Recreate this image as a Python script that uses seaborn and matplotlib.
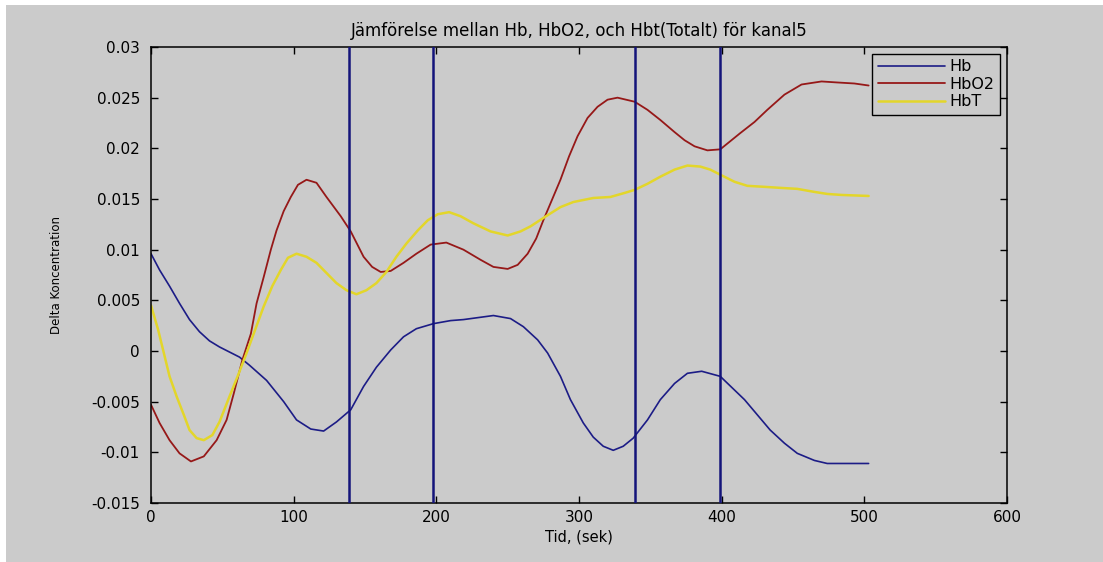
import numpy as np
import pandas as pd
import matplotlib
matplotlib.use("Agg")
import matplotlib.pyplot as plt
from matplotlib.patches import Rectangle
import seaborn as sns

# ---- data ----
hb_t = [0, 6, 13, 20, 27, 34, 41, 48, 55, 62, 69, 81, 93, 102, 112, 121, 130, 140,
        149, 158, 168, 177, 186, 198, 210, 219, 240, 252, 261, 271, 278, 287, 294,
        303, 310, 317, 324, 331, 338, 348, 357, 367, 376, 386, 399, 416, 425, 434,
        444, 453, 465, 474, 503]
hb_v = [0.0096, 0.0080, 0.0064, 0.0047, 0.0031, 0.0019, 0.0010, 0.0004, -0.0001,
        -0.0006, -0.0014, -0.0029, -0.0050, -0.0068, -0.0077, -0.0079, -0.0070,
        -0.0058, -0.0035, -0.0016, 0.0001, 0.0014, 0.0022, 0.0027, 0.0030, 0.0031,
        0.0035, 0.0032, 0.0024, 0.0011, -0.0002, -0.0025, -0.0048, -0.0071, -0.0085,
        -0.0094, -0.0098, -0.0094, -0.0086, -0.0068, -0.0048, -0.0032, -0.0022,
        -0.0020, -0.0025, -0.0048, -0.0063, -0.0078, -0.0091, -0.0101, -0.0108,
        -0.0111, -0.0111]

hbo2_t = [0, 6, 13, 20, 28, 37, 46, 53, 58, 64, 70, 74, 79, 84, 88, 93, 98, 103, 109,
          116, 123, 133, 140, 149, 155, 161, 168, 177, 186, 196, 207, 219, 231, 240,
          250, 257, 264, 270, 275, 281, 287, 293, 299, 306, 313, 320, 327, 339, 348,
          357, 367, 374, 381, 390, 399, 413, 423, 432, 444, 456, 470, 481, 493, 503]
hbo2_v = [-0.0053, -0.0071, -0.0088, -0.0101, -0.0109, -0.0104, -0.0088, -0.0068,
          -0.0042, -0.0009, 0.0017, 0.0047, 0.0073, 0.0100, 0.0119, 0.0138, 0.0152,
          0.0164, 0.0169, 0.0166, 0.0152, 0.0133, 0.0118, 0.0093, 0.0083, 0.0078,
          0.0079, 0.0087, 0.0096, 0.0105, 0.0107, 0.0100, 0.0090, 0.0083, 0.0081,
          0.0085, 0.0096, 0.0111, 0.0129, 0.0149, 0.0169, 0.0192, 0.0212, 0.0230,
          0.0241, 0.0248, 0.0250, 0.0246, 0.0238, 0.0228, 0.0216, 0.0208, 0.0202,
          0.0198, 0.0199, 0.0215, 0.0226, 0.0238, 0.0253, 0.0263, 0.0266, 0.0265,
          0.0264, 0.0262]

hbt_t = [0, 5, 9, 13, 18, 23, 27, 32, 37, 43, 48, 55, 61, 67, 73, 79, 85, 91, 96, 102,
         109, 116, 123, 130, 137, 144, 151, 158, 165, 172, 179, 187, 194, 201, 209,
         217, 226, 238, 250, 259, 266, 278, 287, 296, 310, 322, 332, 339, 348, 357,
         367, 376, 385, 392, 399, 409, 418, 430, 441, 453, 465, 474, 484, 503]
hbt_v = [0.0045, 0.0021, -0.0002, -0.0025, -0.0045, -0.0063, -0.0078, -0.0086,
         -0.0088, -0.0083, -0.0070, -0.0045, -0.0024, -0.0002, 0.0021, 0.0044, 0.0064,
         0.0080, 0.0092, 0.0096, 0.0093, 0.0087, 0.0077, 0.0067, 0.0060, 0.0056,
         0.0060, 0.0067, 0.0078, 0.0093, 0.0106, 0.0119, 0.0129, 0.0135, 0.0137,
         0.0133, 0.0126, 0.0118, 0.0114, 0.0118, 0.0123, 0.0134, 0.0142, 0.0147,
         0.0151, 0.0152, 0.0156, 0.0159, 0.0165, 0.0172, 0.0179, 0.0183, 0.0182,
         0.0179, 0.0174, 0.0167, 0.0163, 0.0162, 0.0161, 0.0160, 0.0157, 0.0155,
         0.0154, 0.0153]

series_names = ["Hb", "HbO2", "HbT"]
marker_times = [139, 198, 339, 399]

x_ticks = [0, 100, 200, 300, 400, 500, 600]
y_ticks = [-0.015, -0.01, -0.005, 0, 0.005, 0.01, 0.015, 0.02, 0.025, 0.03]
y_tick_labels = ["-0.015", "-0.01", "-0.005", "0", "0.005", "0.01", "0.015", "0.02", "0.025", "0.03"]

title = "Jämförelse mellan Hb, HbO2, och Hbt(Totalt) för kanal5"
xlabel = "Tid, (sek)"
ylabel = "Delta Koncentration"

# ---- styling ----
GRAY = "#cbcbcb"
colors = {"Hb": "#1c1c86", "HbO2": "#961818", "HbT": "#e3d62a"}
widths = {"Hb": 1.2, "HbO2": 1.3, "HbT": 1.8}

sns.set_theme(style="ticks")
plt.rcParams["font.family"] = ["DejaVu Sans"]

df = pd.concat([
    pd.DataFrame({"t": hb_t, "v": hb_v, "s": "Hb"}),
    pd.DataFrame({"t": hbo2_t, "v": hbo2_v, "s": "HbO2"}),
    pd.DataFrame({"t": hbt_t, "v": hbt_v, "s": "HbT"}),
], ignore_index=True)

fig = plt.figure(figsize=(11.03, 5.62), dpi=100, facecolor="white")
fig.patches.append(Rectangle((6 / 1103, 0), 1, 1 - 5 / 562, transform=fig.transFigure,
                             facecolor=GRAY, edgecolor="none", zorder=-10))
ax = fig.add_axes([151 / 1103, 1 - 503 / 562, 856 / 1103, 456 / 562])
ax.set_facecolor(GRAY)

sns.lineplot(data=df, x="t", y="v", hue="s", hue_order=series_names, palette=colors,
             estimator=None, sort=True, ax=ax, linewidth=1.3)
for line, name in zip(ax.get_lines(), series_names):
    line.set_linewidth(widths[name])
    line.set_solid_joinstyle("round")

for mt in marker_times:
    ax.axvline(mt, color="#14147a", linewidth=1.8, zorder=5)

ax.set_xlim(0, 600)
ax.set_ylim(-0.015, 0.03)
ax.set_xticks(x_ticks)
ax.set_xticklabels([str(v) for v in x_ticks])
ax.set_yticks(y_ticks)
ax.set_yticklabels(y_tick_labels)
ax.tick_params(direction="in", top=True, right=True, length=5, width=1,
               labelsize=11, colors="black", pad=5)
ax.tick_params(axis="y", pad=8)
for sp in ax.spines.values():
    sp.set_visible(True)
    sp.set_color("black")
    sp.set_linewidth(1.1)

ax.set_title(title, fontsize=12, pad=8, color="black")
ax.set_xlabel(xlabel, fontsize=10.5, labelpad=3, color="black")
ax.set_ylabel(ylabel, fontsize=8.5, labelpad=20, color="black")

handles, labels = ax.get_legend_handles_labels()
for h, l in zip(handles, labels):
    h.set_linewidth(widths.get(l, 1.3))
leg = ax.legend(handles, labels, loc="upper right", bbox_to_anchor=(0.992, 0.985),
                borderaxespad=0, frameon=True, fancybox=False, fontsize=11.5,
                handlelength=4.2, handletextpad=0.3, labelspacing=0.15,
                borderpad=0.35, labelcolor="black")
leg.get_frame().set_facecolor(GRAY)
leg.get_frame().set_edgecolor("black")
leg.get_frame().set_linewidth(1.0)
leg.get_frame().set_alpha(1)

fig.savefig("out.png", dpi=100, facecolor=fig.get_facecolor())
